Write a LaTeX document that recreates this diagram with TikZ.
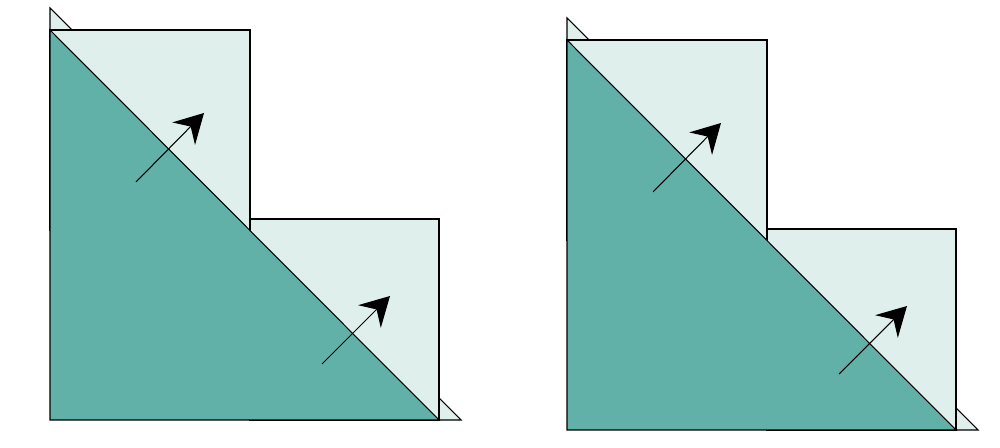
\documentclass[tikz,border=0pt]{standalone}
\usetikzlibrary{arrows.meta}
\definecolor{lightteal}{RGB}{223,239,235}
\definecolor{darkteal}{RGB}{98,177,169}

\begin{document}
\begin{tikzpicture}[x=0.02cm,y=-0.02cm,
            line width=0.6pt,
            lightface/.style={fill=lightteal,draw=black},
            darkface/.style={fill=darkteal,draw=black},
            normal/.style={-{Stealth[length=0.58cm,width=0.64cm,inset=0.2cm]},black},
        ]
        \useasboundingbox (0,0) rectangle (1000,448);
        \foreach \dx/\dy in {0/0,517/10} {
        \begin{scope}[shift={(\dx,\dy)}]
        \draw[lightface] (50,8) -- (72,30) -- (50,30) -- cycle;
        \draw[lightface] (439,398) -- (461,420) -- (439,420) -- cycle;
        \draw[lightface] (250,219) rectangle (439,420);
        \draw[lightface] (50,30) rectangle (250,230);
        \draw[darkface] (50,30) -- (439,420) -- (50,420) -- cycle;
        % normals to the face
        \coordinate (n1s) at (136,182);
        \coordinate (n1e) at (204,113);
        \coordinate (n2s) at (322,364);
        \coordinate (n2e) at (390,296);
        \draw[normal] (n1s) -- (n1e);
        \draw[normal] (n2s) -- (n2e);
        \end{scope}
        }
    \end{tikzpicture}
\end{document}
